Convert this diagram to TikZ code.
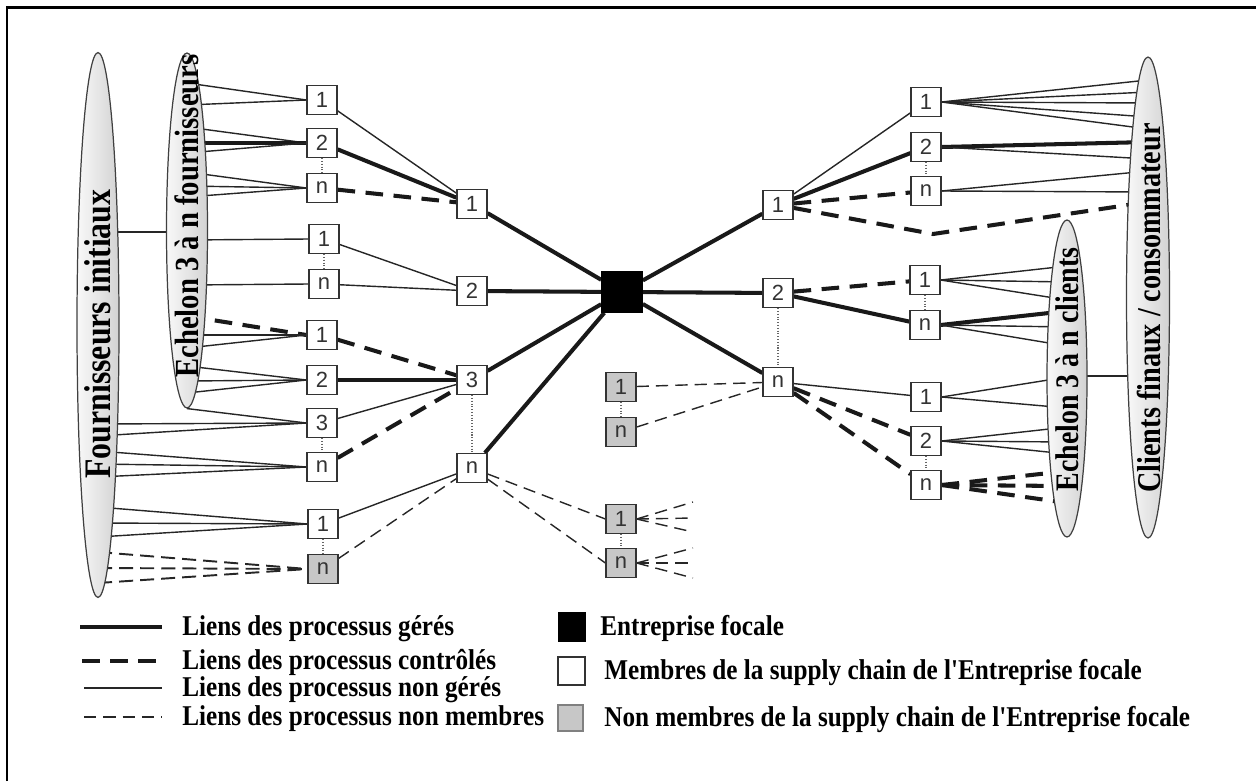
\documentclass[tikz,border=0pt]{standalone}
\usepackage{fontspec}
\setmainfont{Liberation Serif}
\newfontfamily\boxfont{Liberation Sans}
\font\legfont="Liberation Serif/B" at 16.3pt
\usetikzlibrary{shapes.geometric}
\pgfdeclarelayer{background}
\pgfsetlayers{background,main}
% narrow bold lettering used in the tiers and the key
\newcommand{\narrow}[2]{\scalebox{#1}[1]{#2}}

\begin{document}
\begin{tikzpicture}[x=0.02cm,y=-0.02cm,
  member/.style={draw=black!80, line width=0.7pt, fill=white, minimum width=0.6cm,
    minimum height=0.58cm, inner sep=0pt, font=\boxfont\fontsize{12.5}{12}\selectfont, text=black!80},
  nonmember/.style={member, fill=black!22},
  focal/.style={draw=black, fill=black, minimum size=0.82cm, inner sep=0pt},
  managed/.style={line width=2.3pt, black!90},
  controlled/.style={line width=2.3pt, black!90, dash pattern=on 10pt off 6pt},
  unmanaged/.style={line width=0.8pt, black!85},
  nonmemberlink/.style={line width=0.8pt, black!85, dash pattern=on 7pt off 4pt},
  nonmemberthick/.style={line width=1.1pt, black!85, dash pattern=on 8pt off 4pt},
  ranks/.style={densely dotted, line width=0.6pt, black!60},
  tier/.style={ellipse, draw=black!75, line width=0.7pt, left color=gray!5, right color=gray!35, inner sep=0pt},
  tiertext/.style={rotate=90, inner sep=0pt},
  legend/.style={anchor=base west, inner sep=0pt, font=\legfont},
]
\useasboundingbox (0,0) rectangle (1256,781);
\draw[line width=1.7pt] (7,781) -- (7,7.5) -- (1256,7.5);

% ---------- tiers ----------
\node[tier, minimum width=0.84cm, minimum height=10.9cm] (EF) at (98,325) {};
\node[tier, minimum width=0.82cm, minimum height=7.1cm] (EE) at (187,230.5) {};
\node[tier, minimum width=0.8cm, minimum height=6.34cm] (EC) at (1067,378.5) {};
\node[tier, minimum width=0.86cm, minimum height=9.62cm] (ECF) at (1148,297.5) {};

\node[tiertext, font=\fontsize{21.3}{21}\selectfont\bfseries] (EFt) at (98,334) {\narrow{0.85}{Fournisseurs initiaux}};
\begin{scope}
  \clip (140,53) rectangle (240,420);
  \node[tiertext, font=\fontsize{19.2}{19}\selectfont\bfseries] (EEt) at (187,216) {\narrow{0.85}{Echelon 3 à n fournisseurs}};
\end{scope}
\node[tiertext, font=\fontsize{18.7}{19}\selectfont\bfseries] (ECt) at (1067,369.5) {\narrow{0.85}{Echelon 3 à n clients}};
\node[tiertext, font=\fontsize{18.9}{19}\selectfont\bfseries] (ECFt) at (1149,308) {\narrow{0.85}{Clients finaux / consommateur}};

% ---------- supplier side ----------
\node[member] (a1) at (322,100) {1};
\node[member] (a2) at (322,143) {2};
\node[member] (an) at (322,188) {n};
\node[member] (b1) at (324,239) {1};
\node[member] (bn) at (324,284) {n};
\node[member] (c1) at (322,335) {1};
\node[member] (c2) at (322,380) {2};
\node[member] (c3) at (322,423) {3};
\node[member] (cn) at (322,467) {n};
\node[member] (d1) at (323,524) {1};
\node[nonmember] (dn) at (323,569) {n};

\node[member] (L1) at (472,204) {1};
\node[member] (L2) at (472,291) {2};
\node[member] (L3) at (472,380) {3};
\node[member] (Ln) at (472,468) {n};

% ---------- focal firm ----------
\node[focal] (F) at (622,292) {};

\node[nonmember] (m1) at (621,387) {1};
\node[nonmember] (mn) at (621,432) {n};
\node[nonmember] (g1) at (621,519) {1};
\node[nonmember] (gn) at (621,563) {n};
\coordinate (f1) at (693,502);
\coordinate (f2) at (693,518);
\coordinate (f3) at (693,532);
\coordinate (f4) at (693,548);
\coordinate (f5) at (693,563);
\coordinate (f6) at (693,578);

% ---------- customer side ----------
\node[member] (R1) at (778,205) {1};
\node[member] (R2) at (778,293) {2};
\node[member] (Rn) at (778,382) {n};

\node[member] (r1) at (926,102) {1};
\node[member] (r2) at (926,147) {2};
\node[member] (rn) at (926,191) {n};
\node[member] (s1) at (925,280) {1};
\node[member] (sn) at (925,325) {n};
\node[member] (t1) at (926,397) {1};
\node[member] (t2) at (926,441) {2};
\node[member] (tn) at (926,485) {n};
\coordinate (bend) at (933,234);

\begin{pgfonlayer}{background}
  \draw[unmanaged] (EF.center |- 0,232) -- (EE.center |- 0,232);
  % first group
  \foreach \y in {83,105} \draw[unmanaged] (EE.center |- 0,\y) -- (a1.west);
  \draw[unmanaged] (EE.center |- 0,127) -- (a2.west);
  \draw[managed] (EE.center |- 0,143) -- (a2.west);
  \draw[unmanaged] (EE.center |- 0,153) -- (a2.west);
  \foreach \y in {172,186,197} \draw[unmanaged] (EE.center |- 0,\y) -- (an.west);
  \draw[unmanaged] (a1) -- (L1);
  \draw[managed] (a2) -- (L1);
  \draw[controlled] (an) -- (L1);
  % second group
  \draw[unmanaged] (EE.center |- 0,240) -- (b1.west);
  \draw[unmanaged] (EE.center |- 0,285) -- (bn.west);
  \draw[unmanaged] (b1) -- (L2);
  \draw[unmanaged] (bn) -- (L2);
  % third group
  \draw[controlled] (EE.center |- 0,316) -- (c1.west);
  \foreach \y in {335,348} \draw[unmanaged] (EE.center |- 0,\y) -- (c1.west);
  \foreach \y in {366,381,393} \draw[unmanaged] (EE.center |- 0,\y) -- (c2.west);
  \draw[unmanaged] (EE.south) -- (c3.west);
  \foreach \y in {424,436} \draw[unmanaged] (EF.center |- 0,\y) -- (c3.west);
  \foreach \y in {451,464,477} \draw[unmanaged] (EF.center |- 0,\y) -- (cn.west);
  \draw[controlled] (c1) -- (L3);
  \draw[managed] (c2) -- (L3);
  \draw[unmanaged] (c3) -- (L3);
  \draw[controlled] (cn) -- (L3);
  % fourth group
  \foreach \y in {507,523,537} \draw[unmanaged] (EF.center |- 0,\y) -- (d1.west);
  \foreach \y in {552,568,583} \draw[nonmemberthick] (EF.center |- 0,\y) -- (dn.west);
  \draw[unmanaged] (d1) -- (Ln);
  \draw[nonmemberlink] (dn) -- (Ln);
  % rank ellipses
  \foreach \p/\q in {a2/an, b1/bn, c3/cn, d1/dn, L3/Ln, m1/mn, g1/gn, R2/Rn, r2/rn, s1/sn, t2/tn}
    \draw[ranks] (\p) -- (\q);
  % focal firm links
  \foreach \n in {L1,L2,L3,Ln} \draw[managed] (\n) -- (F);
  \foreach \n in {R1,R2,Rn} \draw[managed] (F) -- (\n);
  % non members in the middle
  \draw[nonmemberlink] (m1) -- (Rn);
  \draw[nonmemberlink] (mn) -- (Rn);
  \draw[nonmemberlink] (Ln) -- (g1.west);
  \draw[nonmemberlink] (Ln) -- (gn.west);
  \foreach \c/\b in {f1/g1, f2/g1, f3/g1, f4/gn, f5/gn, f6/gn}
    \draw[nonmemberlink] (\b.east) -- (\c);
  % customer side
  \draw[unmanaged] (R1) -- (r1);
  \draw[managed] (R1) -- (r2);
  \draw[controlled] (R1) -- (rn);
  \draw[controlled] (R1) -- (bend) -- (ECF.center |- 0,202);
  \foreach \y in {80,92,103,117,129} \draw[unmanaged] (r1.east) -- (ECF.center |- 0,\y);
  \draw[managed] (r2.east) -- (ECF.center |- 0,142);
  \draw[unmanaged] (r2.east) -- (ECF.center |- 0,159);
  \foreach \y in {171,192} \draw[unmanaged] (rn.east) -- (ECF.center |- 0,\y);
  \draw[controlled] (R2) -- (s1);
  \draw[managed] (R2) -- (sn);
  \foreach \y in {266,282,300} \draw[unmanaged] (s1.east) -- (EC.center |- 0,\y);
  \draw[managed] (sn.east) -- (EC.center |- 0,311);
  \foreach \y in {327,346} \draw[unmanaged] (sn.east) -- (EC.center |- 0,\y);
  \draw[unmanaged] (Rn) -- (t1);
  \draw[controlled] (Rn) -- (t2);
  \draw[controlled] (Rn) -- (tn);
  \foreach \y in {377,408} \draw[unmanaged] (t1.east) -- (EC.center |- 0,\y);
  \foreach \y in {427,442,454} \draw[unmanaged] (t2.east) -- (EC.center |- 0,\y);
  \foreach \y in {471,486,503} \draw[controlled] (tn.east) -- (EC.center |- 0,\y);
  \draw[unmanaged] (EC.center |- 0,376) -- (ECF.center |- 0,376);
\end{pgfonlayer}

% ---------- key ----------
\coordinate (k1a) at (80,627);  \coordinate (k1b) at (162,627);
\coordinate (k2a) at (82,661);  \coordinate (k2b) at (162,661);
\coordinate (k3a) at (84,688);  \coordinate (k3b) at (162,688);
\coordinate (k4a) at (84,717);  \coordinate (k4b) at (162,717);
\draw[managed] (k1a) -- (k1b);
\draw[controlled] (k2a) -- (k2b);
\draw[unmanaged] (k3a) -- (k3b);
\draw[nonmemberlink] (k4a) -- (k4b);
\node[legend] (k1t) at (182,635) {\narrow{0.88}{Liens des processus gérés}};
\node[legend] (k2t) at (182,669) {\narrow{0.88}{Liens des processus contrôlés}};
\node[legend] (k3t) at (182,696) {\narrow{0.88}{Liens des processus non gérés}};
\node[legend] (k4t) at (182,725) {\narrow{0.88}{Liens des processus non membres}};

\node[focal, minimum width=0.54cm, minimum height=0.58cm] (q1) at (571.5,626.5) {};
\node[draw=black!80, line width=0.7pt, fill=white, minimum width=0.54cm, minimum height=0.56cm, inner sep=0pt] (q2) at (571.5,671) {};
\node[draw=black!50, line width=0.6pt, fill=black!22, minimum width=0.5cm, minimum height=0.52cm, inner sep=0pt] (q3) at (570.5,718) {};
\node[legend] (q1t) at (600,635) {\narrow{0.88}{Entreprise focale}};
\node[legend] (q2t) at (604,679) {\narrow{0.88}{Membres de la supply chain de l'Entreprise focale}};
\node[legend] (q3t) at (604,726) {\narrow{0.88}{Non membres de la supply chain de l'Entreprise focale}};
\end{tikzpicture}
\end{document}
